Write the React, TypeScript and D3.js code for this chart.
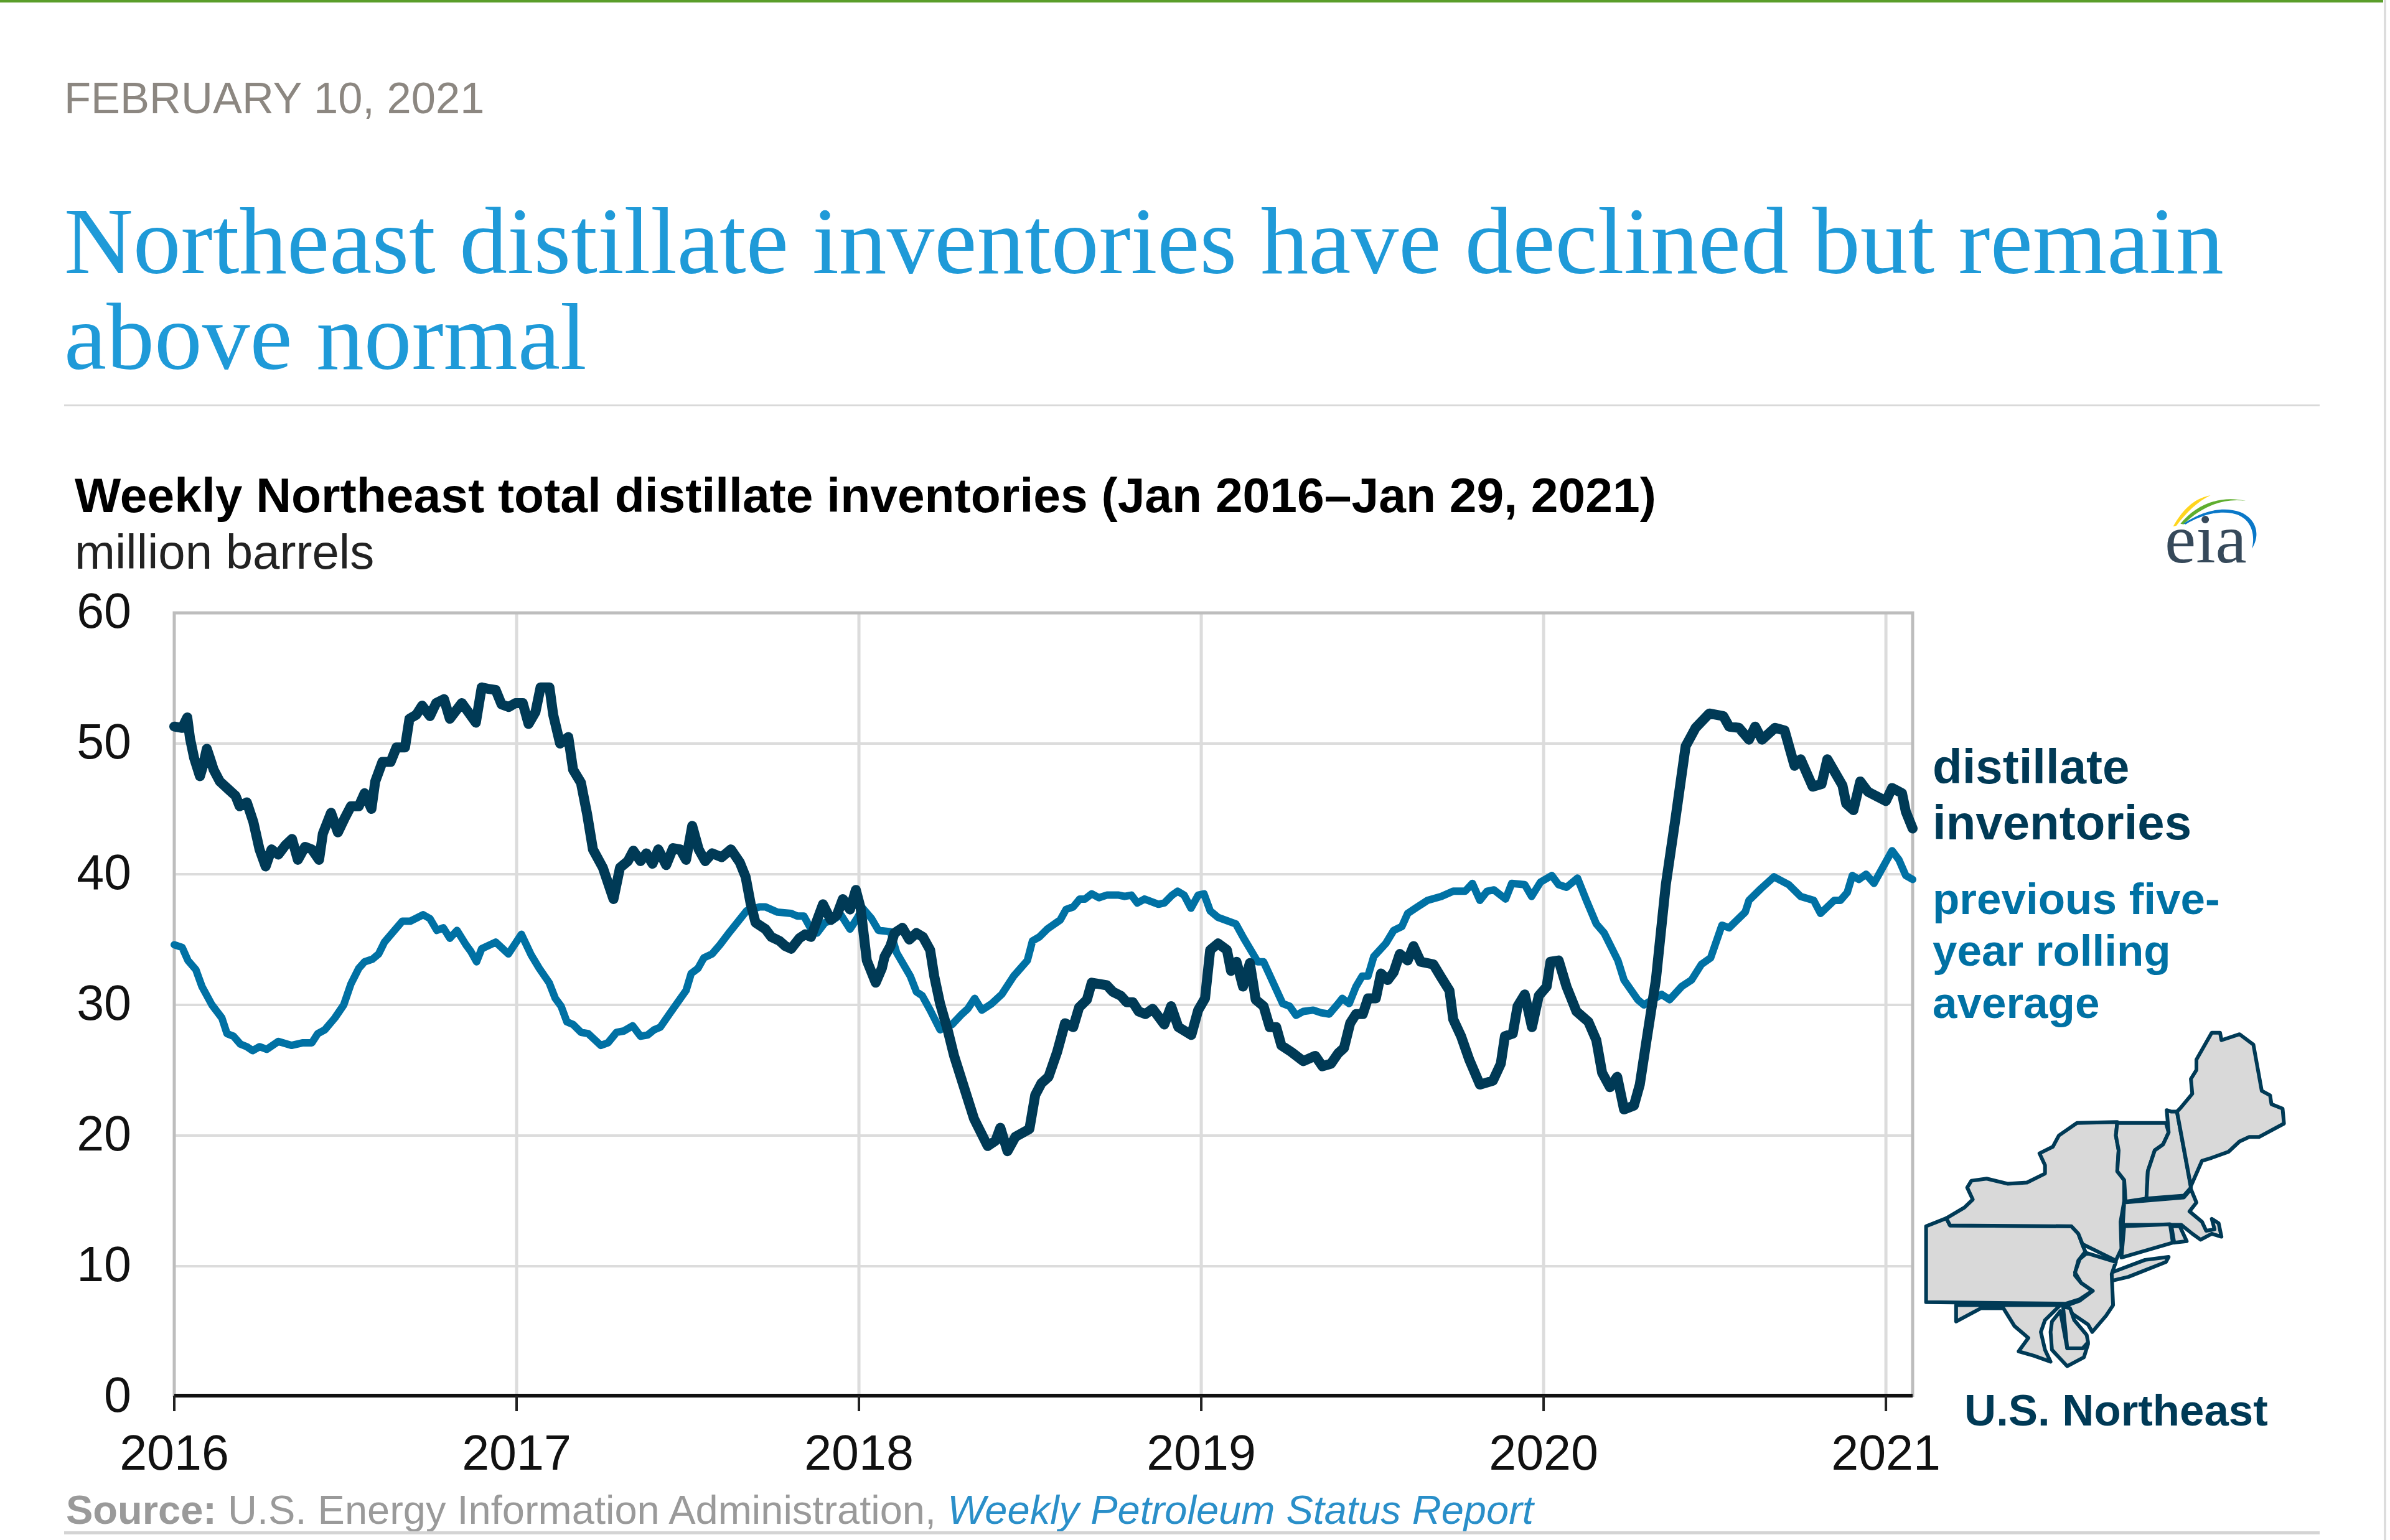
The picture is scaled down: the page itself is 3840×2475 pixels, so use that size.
import React from "react";
import * as d3 from "d3";

const yearTicks = [2016, 2017, 2018, 2019, 2020, 2021];
const valueTicks = [0, 10, 20, 30, 40, 50, 60];
const startYear = 2016;
const endYear = 2021.078;

// [years since Jan 2016, million barrels]
const distillateInventories: [number, number][] = [
[0,51.3],[.023,51.2],[.038,52],[.046,50.4],[.058,48.9],[.075,47.5],[.084,48.3],[.095,49.6],[.104,48.9],[.115,48],[.133,47.1],[.158,46.5],[.179,46],[.191,45.2],[.212,45.5],[.231,44],[.249,41.9],[.267,40.6],[.284,41.9],[.304,41.5],[.324,42.2],[.344,42.7],[.361,41.1],[.382,42.1],[.402,41.9],[.423,41.1],[.434,43.1],[.458,44.7],[.478,43.2],[.498,44.3],[.516,45.2],[.539,45.2],[.556,46.2],[.576,45],[.587,47.1],[.608,48.6],[.632,48.6],[.649,49.7],[.674,49.7],[.687,51.9],[.707,52.2],[.724,52.9],[.747,52.1],[.765,53.1],[.788,53.4],[.805,51.9],[.84,53.1],[.881,51.6],[.898,54.3],[.915,54.2],[.939,54.1],[.956,53],[.977,52.8],[.997,53.1],[1.018,53.1],[1.035,51.5],[1.055,52.4],[1.07,54.3],[1.096,54.3],[1.107,52.2],[1.127,50],[1.151,50.5],[1.165,48],[1.188,47],[1.206,44.6],[1.223,41.9],[1.252,40.5],[1.283,38.1],[1.302,40.5],[1.325,41],[1.341,41.8],[1.362,41],[1.379,41.6],[1.397,40.8],[1.414,41.9],[1.437,40.7],[1.457,42],[1.478,41.9],[1.495,41.1],[1.513,43.7],[1.532,41.9],[1.551,41],[1.571,41.6],[1.599,41.3],[1.626,41.9],[1.652,40.9],[1.669,39.8],[1.684,37.7],[1.698,36.3],[1.727,35.8],[1.744,35.2],[1.768,34.9],[1.785,34.5],[1.802,34.3],[1.826,35.1],[1.843,35.4],[1.86,35.2],[1.878,36.5],[1.895,37.7],[1.918,36.5],[1.936,36.9],[1.953,38.1],[1.974,37.3],[1.991,38.8],[2.005,37.4],[2.023,33.4],[2.049,31.7],[2.067,32.8],[2.075,33.7],[2.092,34.5],[2.104,35.5],[2.127,35.9],[2.147,35],[2.168,35.5],[2.187,35.2],[2.208,34.2],[2.22,32.2],[2.237,30.1],[2.26,28],[2.278,26.1],[2.307,23.7],[2.336,21.3],[2.376,19.2],[2.399,19.6],[2.413,20.6],[2.434,18.8],[2.457,19.9],[2.498,20.5],[2.515,23.1],[2.533,24],[2.554,24.5],[2.579,26.4],[2.602,28.6],[2.626,28.3],[2.643,29.8],[2.666,30.4],[2.68,31.7],[2.724,31.5],[2.742,31],[2.765,30.7],[2.782,30.2],[2.8,30.2],[2.817,29.5],[2.837,29.3],[2.858,29.7],[2.892,28.5],[2.912,29.9],[2.933,28.3],[2.971,27.7],[2.991,29.6],[3.011,30.5],[3.026,34.2],[3.049,34.7],[3.075,34.2],[3.087,32.6],[3.103,33.3],[3.122,31.4],[3.142,33.2],[3.159,30.4],[3.182,29.9],[3.2,28.3],[3.219,28.3],[3.234,26.9],[3.263,26.4],[3.298,25.7],[3.333,26.1],[3.354,25.3],[3.379,25.5],[3.4,26.3],[3.417,26.7],[3.435,28.6],[3.452,29.3],[3.472,29.3],[3.487,30.5],[3.51,30.5],[3.525,32.4],[3.545,31.9],[3.562,32.5],[3.58,33.9],[3.603,33.4],[3.62,34.5],[3.641,33.3],[3.678,33.1],[3.701,32.1],[3.725,31.1],[3.736,28.9],[3.759,27.6],[3.783,25.8],[3.814,23.9],[3.852,24.2],[3.875,25.5],[3.887,27.6],[3.91,27.8],[3.924,29.9],[3.945,30.8],[3.966,28.3],[3.986,30.7],[4.009,31.4],[4.02,33.3],[4.044,33.4],[4.067,31.4],[4.096,29.5],[4.131,28.7],[4.154,27.3],[4.171,24.8],[4.194,23.7],[4.215,24.5],[4.235,22],[4.264,22.3],[4.281,23.9],[4.299,27],[4.328,31.9],[4.357,39.2],[4.386,44.4],[4.415,49.8],[4.444,51.2],[4.484,52.3],[4.525,52.1],[4.542,51.3],[4.571,51.2],[4.6,50.3],[4.618,51.3],[4.638,50.3],[4.676,51.2],[4.704,51],[4.733,48.3],[4.751,48.8],[4.786,46.7],[4.812,46.9],[4.829,48.8],[4.873,46.8],[4.884,45.4],[4.905,44.9],[4.925,47.1],[4.948,46.3],[5,45.6],[5.018,46.6],[5.047,46.2],[5.058,44.8],[5.078,43.5],
];

const fiveYearAverage: [number, number][] = [
[0,34.6],[.023,34.4],[.04,33.4],[.063,32.7],[.081,31.4],[.11,30],[.139,29],[.154,27.8],[.173,27.6],[.193,27],[.212,26.8],[.229,26.5],[.249,26.8],[.27,26.6],[.304,27.2],[.342,26.9],[.376,27.1],[.402,27.1],[.419,27.8],[.44,28.1],[.469,29],[.495,30],[.516,31.6],[.539,32.8],[.556,33.3],[.579,33.5],[.597,33.9],[.614,34.8],[.643,35.7],[.666,36.4],[.689,36.4],[.727,36.9],[.747,36.6],[.767,35.7],[.786,35.9],[.805,35.1],[.826,35.7],[.852,34.6],[.866,34.1],[.883,33.3],[.898,34.3],[.939,34.8],[.976,33.9],[1.014,35.4],[1.043,33.8],[1.066,32.8],[1.095,31.7],[1.113,30.5],[1.13,29.9],[1.147,28.7],[1.165,28.5],[1.188,27.9],[1.209,27.8],[1.246,26.9],[1.267,27.1],[1.292,27.9],[1.313,28],[1.339,28.4],[1.362,27.6],[1.383,27.7],[1.402,28.1],[1.42,28.3],[1.449,29.4],[1.495,31.1],[1.51,32.4],[1.53,32.8],[1.547,33.6],[1.571,33.9],[1.594,34.6],[1.623,35.6],[1.672,37.2],[1.71,37.5],[1.727,37.5],[1.762,37.1],[1.802,37],[1.82,36.8],[1.839,36.8],[1.86,35.8],[1.878,35.5],[1.901,36.3],[1.924,36.5],[1.947,36.9],[1.974,35.8],[1.994,36.6],[2.011,37.4],[2.037,36.6],[2.057,35.7],[2.092,35.6],[2.11,34],[2.15,32.2],[2.168,31],[2.185,30.7],[2.208,29.6],[2.237,28.1],[2.272,28.5],[2.301,29.3],[2.318,29.7],[2.338,30.5],[2.359,29.6],[2.388,30.1],[2.417,30.8],[2.452,32.2],[2.492,33.4],[2.507,34.9],[2.527,35.2],[2.55,35.8],[2.588,36.5],[2.605,37.3],[2.626,37.5],[2.645,38.1],[2.66,38.1],[2.68,38.5],[2.701,38.2],[2.724,38.4],[2.759,38.4],[2.776,38.3],[2.796,38.4],[2.813,37.8],[2.834,38.1],[2.875,37.7],[2.892,37.8],[2.915,38.4],[2.931,38.7],[2.95,38.4],[2.97,37.4],[2.991,38.4],[3.008,38.5],[3.026,37.2],[3.049,36.7],[3.101,36.2],[3.124,35.1],[3.165,33.3],[3.182,33.3],[3.238,30.1],[3.258,29.9],[3.277,29.2],[3.298,29.5],[3.327,29.6],[3.35,29.4],[3.374,29.3],[3.4,30.1],[3.412,30.5],[3.432,30.1],[3.452,31.4],[3.47,32.2],[3.487,32.2],[3.504,33.7],[3.539,34.7],[3.562,35.7],[3.586,36],[3.603,37],[3.626,37.4],[3.661,38],[3.701,38.3],[3.736,38.7],[3.771,38.7],[3.792,39.3],[3.814,38],[3.835,38.7],[3.855,38.8],[3.889,38.1],[3.907,39.3],[3.945,39.2],[3.965,38.3],[3.991,39.4],[4.024,39.9],[4.044,39.2],[4.067,39],[4.099,39.7],[4.125,38],[4.154,36.2],[4.177,35.5],[4.217,33.4],[4.235,31.9],[4.275,30.4],[4.293,30],[4.345,30.8],[4.368,30.4],[4.403,31.4],[4.432,31.9],[4.461,33.1],[4.488,33.6],[4.521,36.1],[4.542,35.9],[4.589,37.1],[4.6,38],[4.635,38.9],[4.673,39.8],[4.716,39.2],[4.751,38.3],[4.789,38],[4.809,37],[4.849,38],[4.867,38],[4.887,38.6],[4.902,39.9],[4.921,39.6],[4.942,40],[4.965,39.3],[5.018,41.8],[5.038,41.1],[5.058,39.9],[5.078,39.6],
];

const DARK = "#003a56";
const TEAL = "#0071a4";
const TITLE = "#1f9ad8";
const SANS = "'Liberation Sans', Arial, sans-serif";
const SERIF = "'Liberation Serif', 'Times New Roman', serif";

const statePaths = [
  // Pennsylvania
  "M212,775 L285,748 L298,772 L735,775 L760,800 L775,838 L785,860 L760,890 L750,925 L748,940 L770,965 L810,992 L765,1020 L715,1035 L212,1030 Z",
  // New York
  "M298,772 L285,748 L350,712 L380,685 L360,645 L375,622 L430,615 L505,632 L575,628 L640,598 L640,570 L620,530 L668,508 L690,470 L755,428 L900,425 L895,470 L905,520 L900,590 L925,620 L925,690 L912,760 L915,850 L895,890 L775,835 L760,800 L735,775 Z",
  // Long Island
  "M845,950 L880,930 L1000,888 L1085,878 L1075,895 L940,945 L880,958 Z",
  // Vermont
  "M900,428 L1075,428 L1085,460 L1065,500 L1035,520 L1010,590 L1005,682 L930,692 L925,620 L900,590 L905,520 L895,470 Z",
  // New Hampshire
  "M1078,385 L1095,390 L1115,390 L1165,645 L1140,672 L1005,682 L1010,590 L1035,520 L1065,500 L1085,460 Z",
  // Maine
  "M1115,390 L1130,375 L1170,330 L1165,280 L1185,250 L1185,215 L1240,125 L1270,125 L1275,150 L1340,130 L1390,165 L1420,320 L1450,335 L1455,365 L1495,380 L1500,430 L1410,475 L1375,475 L1340,490 L1300,525 L1240,545 L1205,555 L1165,640 Z",
  // Massachusetts
  "M925,695 L1140,678 L1165,650 L1185,695 L1160,725 L1205,760 L1220,790 L1250,785 L1240,750 L1265,765 L1275,810 L1240,800 L1200,820 L1170,800 L1130,770 L920,770 Z",
  // Connecticut
  "M925,775 L1090,768 L1100,830 L915,880 Z",
  // Rhode Island
  "M1095,775 L1125,775 L1150,825 L1105,830 Z",
  // New Jersey
  "M790,865 L895,895 L880,935 L885,1040 L860,1075 L810,1130 L795,1105 L740,1070 L720,1040 L765,1025 L812,992 L770,965 L748,930 L765,885 Z",
  // Maryland west
  "M320,1040 L695,1040 L640,1090 L625,1130 L640,1190 L660,1230 L600,1210 L545,1195 L580,1150 L530,1110 L490,1050 L410,1050 L320,1095 Z",
  // Eastern shore
  "M695,1060 L720,1185 L775,1185 L795,1170 L780,1215 L720,1245 L665,1190 L660,1130 L665,1095 Z",
  // Delaware
  "M705,1045 L730,1050 L745,1090 L790,1140 L795,1165 L775,1185 L720,1185 Z",
];

export default function App() {
  const x = d3.scaleLinear().domain([startYear, endYear]).range([280, 3073]);
  const y = d3.scaleLinear().domain([0, 60]).range([2245, 985]);
  const line = d3.line<[number, number]>().x((d) => x(startYear + d[0])).y((d) => y(d[1]));
  return (
    <svg width={3840} height={2475} style={{ position: "absolute", left: 0, top: 0, background: "#fff", display: "block" }} fontFamily={SANS}>
      <rect x={0} y={0} width={3829} height={4} fill="#5a9e2a" />
      <rect x={3830} y={0} width={4} height={2475} fill="#dddddd" />
      <text x={103} y={182} fontSize={70.5} fill="#8c8781">FEBRUARY 10, 2021</text>
      <text x={103} y={439} fontFamily={SERIF} fontSize={153.5} fill={TITLE}>Northeast distillate inventories have declined but remain</text>
      <text x={103} y={593} fontFamily={SERIF} fontSize={153.5} fill={TITLE}>above normal</text>
      <rect x={103} y={650} width={3624} height={3} fill="#d9d9d9" />

      <text x={120} y={823} fontSize={78.6} fontWeight="bold" fill="#000">Weekly Northeast total distillate inventories (Jan 2016–Jan 29, 2021)</text>
      <text x={120} y={914} fontSize={78} fill="#222">million barrels</text>

      {valueTicks.filter((v) => v > 0 && v < 60).map((v) => (
        <line key={v} x1={x(startYear)} x2={x(endYear)} y1={y(v)} y2={y(v)} stroke="#dcdcdc" strokeWidth={4} />
      ))}
      {yearTicks.slice(1).map((yr) => (
        <line key={yr} x1={x(yr)} x2={x(yr)} y1={y(60)} y2={y(0)} stroke="#dcdcdc" strokeWidth={5} />
      ))}
      <path d={`M${x(startYear)},${y(0)}V${y(60)}H${x(endYear)}V${y(0)}`} fill="none" stroke="#bdbdbd" strokeWidth={5} />
      <line x1={x(startYear)} x2={x(endYear)} y1={2243} y2={2243} stroke="#111" strokeWidth={6} />
      {yearTicks.map((yr) => (
        <g key={yr}>
          <line x1={x(yr)} x2={x(yr)} y1={2243} y2={2268} stroke="#222" strokeWidth={4} />
          <text x={x(yr)} y={2362} textAnchor="middle" fontSize={79} fill="#111">{yr}</text>
        </g>
      ))}
      {valueTicks.map((v) => (
        <text key={v} x={211} y={y(v) + 24} textAnchor="end" fontSize={79} fill="#111">{v}</text>
      ))}

      <path d={line(fiveYearAverage) ?? ""} fill="none" stroke={TEAL} strokeWidth={12} strokeLinejoin="round" strokeLinecap="round" />
      <path d={line(distillateInventories) ?? ""} fill="none" stroke={DARK} strokeWidth={16} strokeLinejoin="round" strokeLinecap="round" />

      <g fontWeight="bold">
        <text x={3105} y={1259} fill={DARK} fontSize={78}>distillate</text>
        <text x={3105} y={1349} fill={DARK} fontSize={78}>inventories</text>
        <text x={3105} y={1469} fill={TEAL} fontSize={71}>previous five-</text>
        <text x={3105} y={1552} fill={TEAL} fontSize={71}>year rolling</text>
        <text x={3105} y={1636} fill={TEAL} fontSize={71}>average</text>
        <text x={3156} y={2291} fill={DARK} fontSize={70.8}>U.S. Northeast</text>
      </g>

      <g transform={`translate(3000,1600) scale(${1 / 2.24},${1 / 2.09})`}>
        {statePaths.map((d, i) => (
          <path key={i} d={d} fill="#d9d9d9" stroke={DARK} strokeWidth={6} strokeLinejoin="round" vectorEffect="non-scaling-stroke" />
        ))}
      </g>

      <g transform="translate(3300,750) scale(0.3333)">
        <path d="M575,288 C620,210 670,155 755,138 C690,170 640,220 590,285 Z" fill="#ffd51e" />
        <path d="M610,275 C680,190 790,135 925,165 C810,150 710,195 625,278 Z" fill="#5fae2e" />
        <path d="M625,275 C720,210 820,190 900,220 C970,250 1000,320 955,395 C975,310 940,240 860,225 C780,210 700,240 635,278 Z" fill="#0a78c8" />
      </g>
      <text x={3478} y={904} fontFamily={SERIF} fontSize={113} fill="#36495a">eia</text>

      <text x={106} y={2449} fontSize={65} fill="#9a9a9a">
        <tspan fontWeight="bold">Source:</tspan>
        <tspan> U.S. Energy Information Administration, </tspan>
        <tspan fontStyle="italic" fill="#2a8fc9">Weekly Petroleum Status Report</tspan>
      </text>
      <rect x={103} y={2461} width={3624} height={5} fill="#d4d4d4" />
    </svg>
  );
}
